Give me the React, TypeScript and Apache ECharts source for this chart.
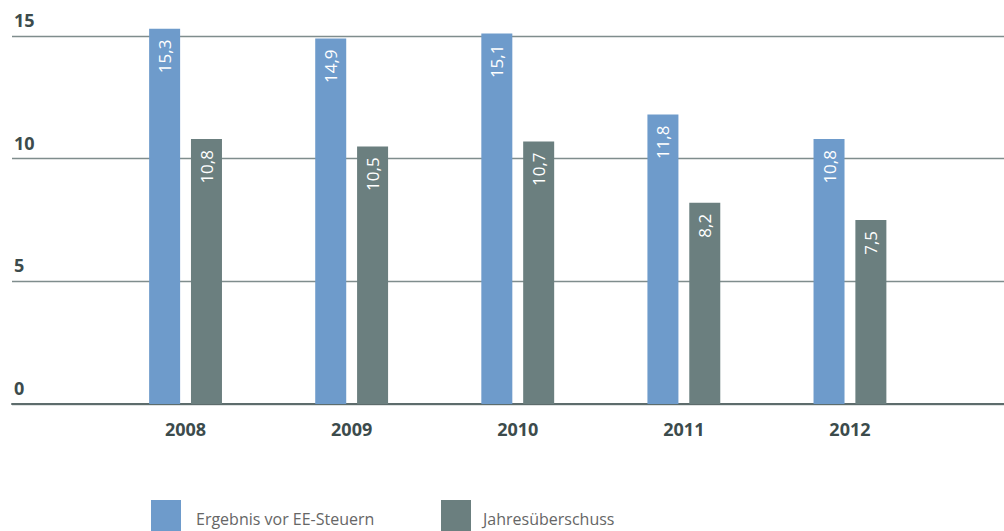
import React, { useEffect, useRef } from "react";
import * as echarts from "echarts";

const categories = ["2008", "2009", "2010", "2011", "2012"];
const ergebnis = [15.3, 14.9, 15.1, 11.8, 10.8];
const jahresueberschuss = [10.8, 10.5, 10.7, 8.2, 7.5];
const seriesNames = ["Ergebnis vor EE-Steuern", "Jahresüberschuss"];

const FONT = "'Open Sans', 'Noto Sans', sans-serif";

export default function App() {
  const ref = useRef<HTMLDivElement>(null);
  useEffect(() => {
    if (!ref.current) return;
    const chart = echarts.init(ref.current, undefined, { renderer: "svg" });
    const fmt = (p: any) => String(p.value).replace(".", ",");
    const label = {
      show: true,
      position: "insideTop",
      rotate: 90,
      align: "right",
      verticalAlign: "middle",
      distance: 11,
      color: "#ffffff",
      fontSize: 17,
      fontFamily: FONT,
      formatter: fmt,
    };
    chart.setOption({
      animation: false,
      backgroundColor: "#ffffff",
      textStyle: { fontFamily: FONT },
      grid: [
        { left: 12, right: 0, top: 36, bottom: 127 },
        { left: 102.5, right: 71, top: 36, bottom: 127 },
      ],
      xAxis: [
        {
          gridIndex: 0,
          type: "value",
          min: 0,
          max: 1,
          axisLine: { show: true, onZero: false, lineStyle: { color: "#5d6c6c", width: 2 } },
          axisTick: { show: false },
          axisLabel: { show: false },
          splitLine: { show: false },
        },
        {
          gridIndex: 1,
          type: "category",
          data: categories,
          axisLine: { show: false },
          axisTick: { show: false },
          axisLabel: {
            margin: 16,
            fontSize: 18,
            fontWeight: "bold",
            color: "#3c4b4c",
            fontFamily: FONT,
          },
        },
      ],
      yAxis: [
        {
          gridIndex: 0,
          type: "value",
          min: 0,
          max: 15,
          interval: 5,
          axisLine: { show: false },
          axisTick: { show: false },
          axisLabel: {
            inside: true,
            margin: 2,
            verticalAlign: "bottom",
            padding: [0, 0, 7, 0],
            fontSize: 18,
            fontWeight: "bold",
            color: "#3c4b4c",
            fontFamily: FONT,
          },
          splitLine: { show: true, lineStyle: { color: "#7f8d8d", width: 1.3 } },
        },
        {
          gridIndex: 1,
          type: "value",
          min: 0,
          max: 15,
          interval: 5,
          show: false,
          splitLine: { show: false },
        },
      ],
      legend: [
        {
          data: [seriesNames[0]],
          left: 151,
          top: 500,
          padding: 0,
          itemWidth: 30,
          itemHeight: 38,
          icon: "rect",
          selectedMode: false,
          textStyle: { fontSize: 16, color: "#666666", fontFamily: FONT, padding: [0, 0, 0, 10] },
        },
        {
          data: [seriesNames[1]],
          left: 441,
          top: 500,
          padding: 0,
          itemWidth: 30,
          itemHeight: 38,
          icon: "rect",
          selectedMode: false,
          textStyle: { fontSize: 16, color: "#666666", fontFamily: FONT, padding: [0, 0, 0, 7] },
        },
      ],
      series: [
        {
          name: seriesNames[0],
          type: "bar",
          xAxisIndex: 1,
          yAxisIndex: 1,
          data: ergebnis,
          barWidth: 31,
          barGap: "35%",
          clip: false,
          itemStyle: { color: "#6e9bcb" },
          label,
        },
        {
          name: seriesNames[1],
          type: "bar",
          xAxisIndex: 1,
          yAxisIndex: 1,
          data: jahresueberschuss,
          barWidth: 31,
          barGap: "35%",
          clip: false,
          itemStyle: { color: "#6b7f7f" },
          label,
        },
      ],
    });
    return () => chart.dispose();
  }, []);
  return <div ref={ref} style={{ width: 1004, height: 531, position: "absolute", left: 0, top: 0 }} />;
}
